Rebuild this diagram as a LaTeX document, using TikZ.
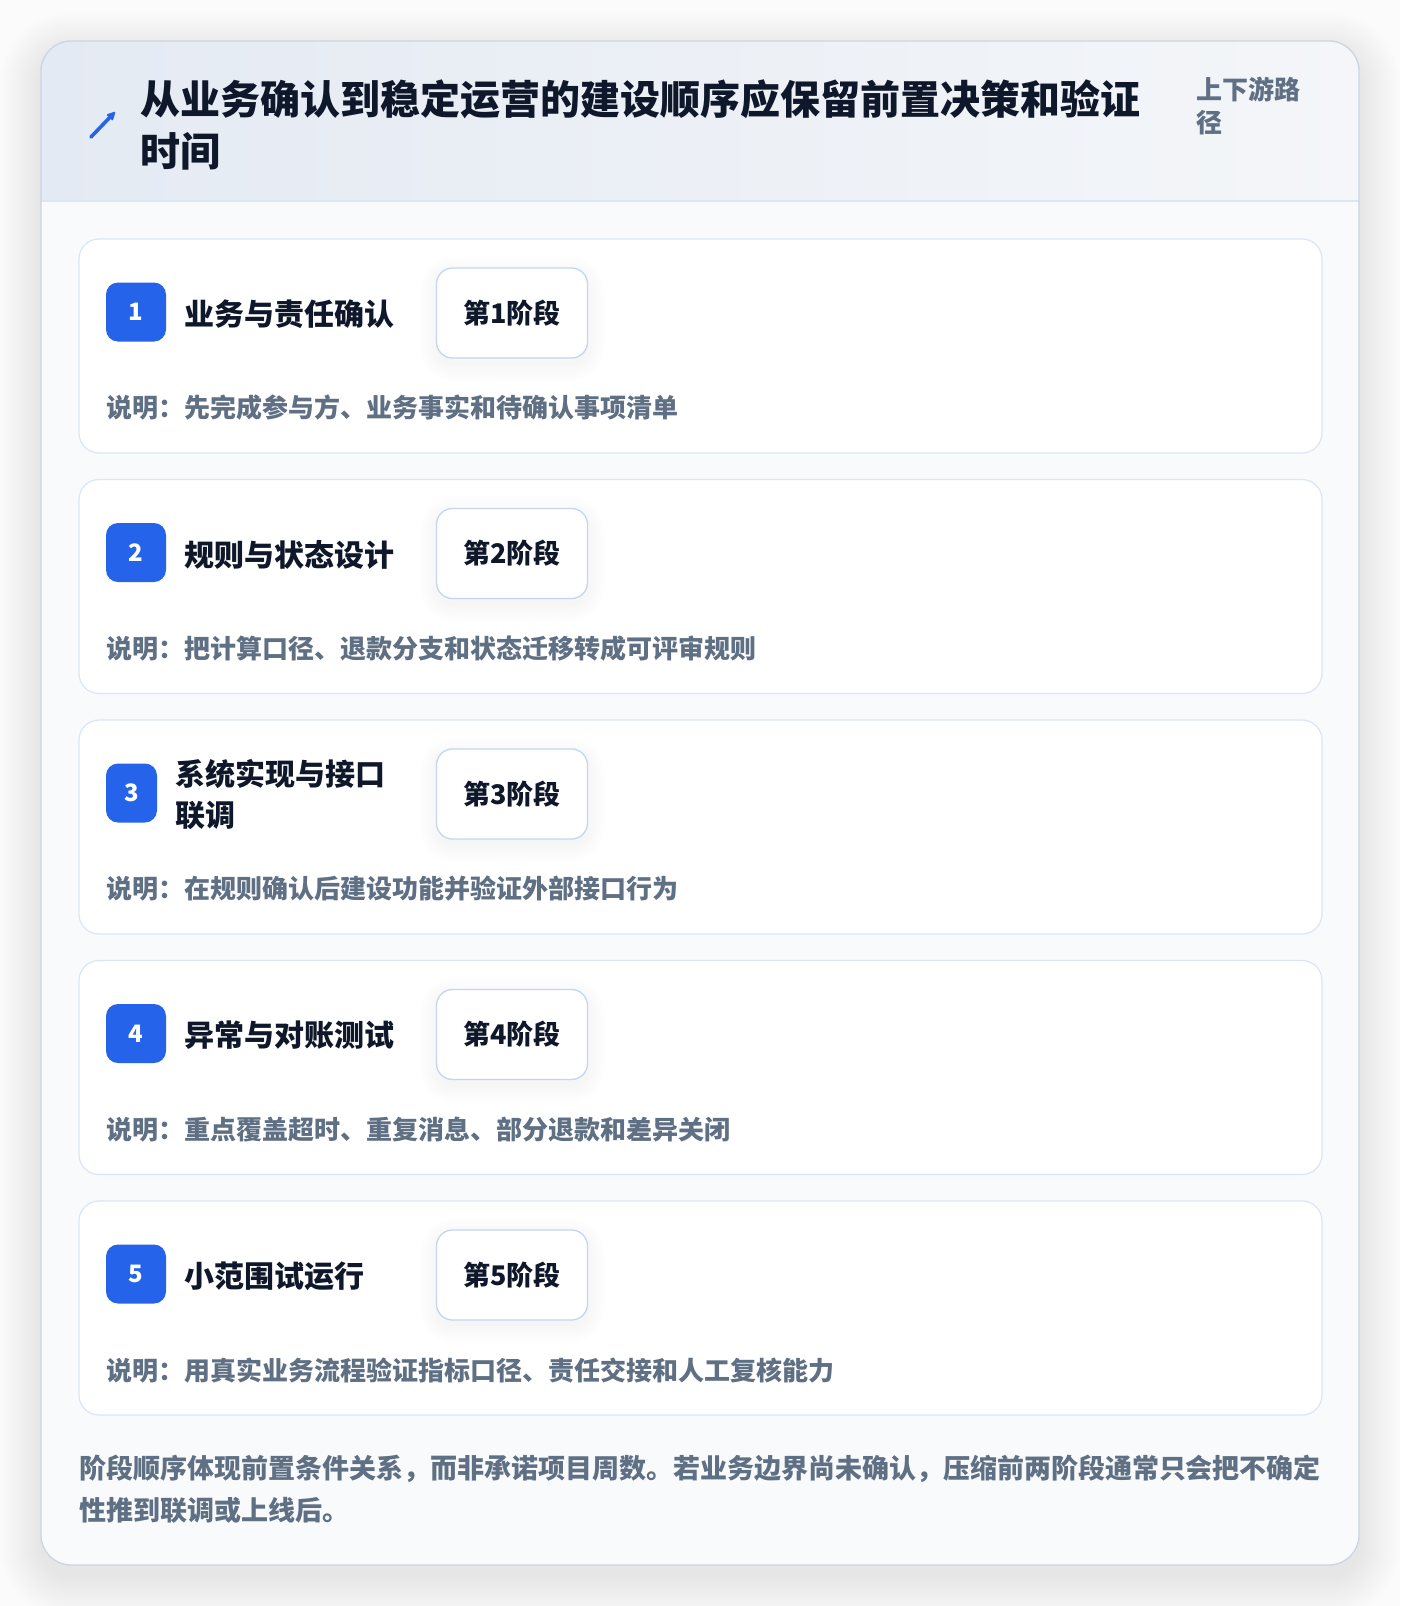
\documentclass[tikz,border=0pt]{standalone}
\usepackage{fontspec}
\setmainfont{Noto Sans CJK SC}
\usetikzlibrary{arrows.meta}
\definecolor{pagebg}{HTML}{FBFBFC}
\definecolor{cardbg}{HTML}{F8FAFC}
\definecolor{outerline}{HTML}{CBD5E1}
\definecolor{hdrL}{HTML}{E4EAF3}
\definecolor{hdrR}{HTML}{F4F6F9}
\definecolor{hdrline}{HTML}{DCE6F3}
\definecolor{darktext}{HTML}{0F172A}
\definecolor{graytext}{HTML}{5F6F84}
\definecolor{accent}{HTML}{2563EB}
\definecolor{cardline}{HTML}{DAE6F6}
\definecolor{pillline}{HTML}{C3D6F1}
\tikzset{
  stagecard/.style={draw=cardline, line width=1.2pt, fill=white, rounded corners=20pt},
  badgebox/.style={fill=accent, rounded corners=12pt, text=white, font=\fontsize{24}{28}\selectfont\bfseries, minimum height=59pt, inner sep=0pt},
  stagetitle/.style={anchor=west, text=darktext, font=\fontsize{30}{41}\selectfont\bfseries, align=left},
  pillbox/.style={draw=pillline, line width=1.3pt, fill=white, rounded corners=16pt, minimum width=151pt, minimum height=90pt, text=darktext, font=\fontsize{27}{32}\selectfont\bfseries},
  desctext/.style={anchor=west, text=graytext, font=\fontsize{26}{32}\selectfont\bfseries},
}
\begin{document}
\begin{tikzpicture}[x=1pt,y=-1pt, every node/.style={inner sep=0pt, outer sep=0pt}]
\useasboundingbox (0,0) rectangle (1400,1606);
\fill[pagebg] (0,0) rectangle (1400,1606);
% soft shadow of the outer card
\foreach \s in {1,3,...,41} {
  \fill[black, fill opacity=0.0035, rounded corners=30pt+\s pt] (41-\s,53-\s) rectangle (1359+\s,1577+\s);
}
% outer card
\fill[cardbg, rounded corners=30pt] (41,41) rectangle (1359,1565);
\begin{scope}
  \clip[rounded corners=30pt] (41,41) rectangle (1359,1565);
  \shade[left color=hdrL, right color=hdrR] (41,41) rectangle (1359,201);
\end{scope}
\draw[hdrline, line width=1.5pt] (41,201) -- (1359,201);
\draw[outerline, line width=1.3pt, rounded corners=30pt] (41,41) rectangle (1359,1565);

% header
\coordinate (arrA) at (91,137);
\coordinate (arrB) at (115,112);
\draw[accent, line width=3.6pt, line cap=round, -{Stealth[length=11pt,width=11pt,round]}] (arrA) -- (arrB);
\node[anchor=west, align=left, text=darktext, font=\fontsize{40}{52}\selectfont\bfseries] (title) at (140,125)
  {从业务确认到稳定运营的建设顺序应保留前置决策和验证\\时间};
\node[anchor=west, align=left, text=graytext, font=\fontsize{26}{33}\selectfont\bfseries] (side) at (1196,106)
  {上下游路\\径};

% stage cards
\foreach \i/\ttl/\desc [count=\k from 0] in {
  1/{业务与责任确认}/{说明：先完成参与方、业务事实和待确认事项清单},
  2/{规则与状态设计}/{说明：把计算口径、退款分支和状态迁移转成可评审规则},
  3/{系统实现与接口\\联调}/{说明：在规则确认后建设功能并验证外部接口行为},
  4/{异常与对账测试}/{说明：重点覆盖超时、重复消息、部分退款和差异关闭},
  5/{小范围试运行}/{说明：用真实业务流程验证指标口径、责任交接和人工复核能力}} {
  \pgfmathsetmacro{\T}{239+240.5*\k}
  \draw[stagecard] (79,\T) rectangle (1322,\T+214);
  \ifnum\i=3
    \node[badgebox, minimum width=51pt] (badge\i) at (131.5,\T+73) {\i};
    \node[stagetitle] (title\i) at (175,\T+75) {\ttl};
  \else
    \node[badgebox, minimum width=60pt] (badge\i) at (136,\T+73) {\i};
    \node[stagetitle] (title\i) at (184,\T+75) {\ttl};
  \fi
  % soft shadow under the stage pill
  \foreach \s in {1,3,...,17} {
    \fill[black, fill opacity=0.005, rounded corners=16pt+\s pt] (436.5-\s,\T+35-\s) rectangle (587.5+\s,\T+125+\s);
  }
  \node[pillbox] (pill\i) at (512,\T+74) {第\i 阶段};
  \node[desctext] (desc\i) at (106,\T+169) {\desc};
}

% footer
\node[anchor=west, align=left, text=graytext, font=\fontsize{27}{42}\selectfont\bfseries] (foot) at (79,1489)
  {阶段顺序体现前置条件关系，而非承诺项目周数。若业务边界尚未确认，压缩前两阶段通常只会把不确定\\性推到联调或上线后。};
\end{tikzpicture}
\end{document}
